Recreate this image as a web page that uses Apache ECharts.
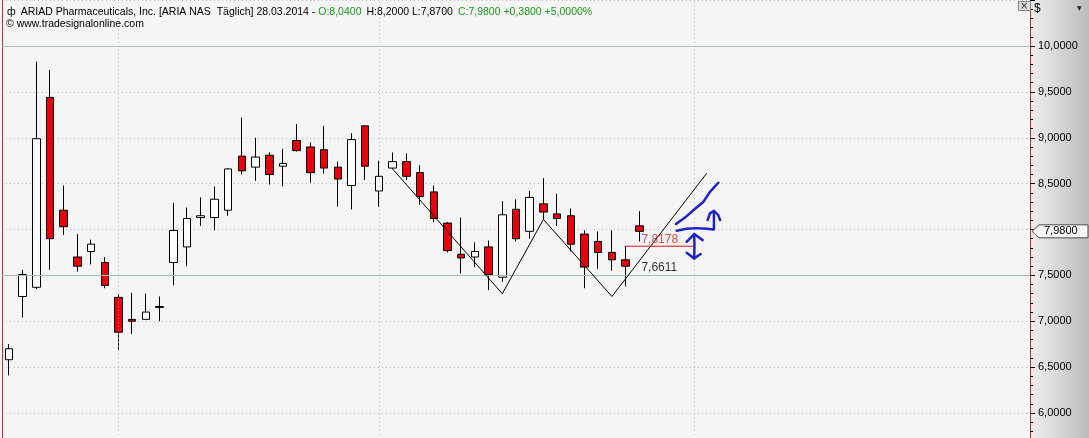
<!DOCTYPE html>
<html><head><meta charset="utf-8">
<script src="https://cdn.jsdelivr.net/npm/echarts@6/dist/echarts.min.js"></script>
<style>html,body{margin:0;padding:0;background:#f5f5f5}#c{width:1089px;height:438px}</style>
</head><body><div id="c"></div>
<script>
// ---- data ----
const tradeDates = ['22.01.2014','23.01.2014','24.01.2014','27.01.2014','28.01.2014','29.01.2014','30.01.2014','31.01.2014',
 '03.02.2014','04.02.2014','05.02.2014','06.02.2014','07.02.2014','10.02.2014','11.02.2014','12.02.2014','13.02.2014','14.02.2014',
 '18.02.2014','19.02.2014','20.02.2014','21.02.2014','24.02.2014','25.02.2014','26.02.2014','27.02.2014','28.02.2014',
 '03.03.2014','04.03.2014','05.03.2014','06.03.2014','07.03.2014','10.03.2014','11.03.2014','12.03.2014','13.03.2014','14.03.2014',
 '17.03.2014','18.03.2014','19.03.2014','20.03.2014','21.03.2014','24.03.2014','25.03.2014','26.03.2014','27.03.2014','28.03.2014'];
const futureDates = ['29.03.2014','30.03.2014','31.03.2014','01.04.2014','02.04.2014','03.04.2014','04.04.2014','05.04.2014',
 '06.04.2014','07.04.2014','08.04.2014','09.04.2014','10.04.2014','11.04.2014','12.04.2014','13.04.2014','14.04.2014','15.04.2014',
 '16.04.2014','17.04.2014','18.04.2014','19.04.2014','20.04.2014','21.04.2014','22.04.2014','23.04.2014','24.04.2014','25.04.2014'];
const opens  = [6.58,7.27,7.37,9.44,8.21,7.70,7.76,7.64,7.26,7.02,7.02,7.15,7.64,7.81,8.13,8.13,8.21,8.80,8.68,8.81,8.69,8.97,8.90,8.87,8.68,8.48,9.13,
                8.42,8.67,8.74,8.62,8.41,8.07,7.73,7.70,7.81,7.48,8.22,7.98,8.28,8.17,8.15,7.95,7.87,7.75,7.67,8.04];
const closes = [6.70,7.51,8.99,7.90,8.03,7.60,7.84,7.39,6.88,7.00,7.10,7.16,7.99,8.12,8.15,8.33,8.66,8.64,8.79,8.60,8.72,8.86,8.62,8.67,8.55,8.98,8.69,
                8.58,8.74,8.58,8.36,8.12,7.77,7.69,7.76,7.51,8.16,7.90,8.35,8.19,8.12,7.84,7.59,7.75,7.67,7.60,7.98];
const lows   = [6.41,7.04,7.35,7.56,7.94,7.54,7.62,7.36,6.69,6.86,7.02,7.00,7.39,7.60,8.04,7.99,8.15,8.60,8.53,8.49,8.47,8.85,8.51,8.61,8.25,8.22,8.54,
                8.25,8.66,8.54,8.27,8.08,7.75,7.52,7.59,7.34,7.43,7.87,7.90,8.11,8.04,7.76,7.36,7.57,7.55,7.38,7.87];
const highs  = [6.75,7.56,9.83,9.74,8.48,7.95,7.89,7.70,7.30,7.31,7.30,7.27,8.29,8.24,8.35,8.47,8.67,9.22,9.00,8.84,8.88,9.15,8.95,9.13,8.74,9.05,9.13,
                8.75,8.84,8.83,8.70,8.48,8.08,8.13,7.86,7.88,8.31,8.33,8.42,8.56,8.39,8.23,7.99,7.98,7.99,7.82,8.20];
const monthGridDates = ['03.02.2014','03.03.2014','01.04.2014'];
const levelLines = [10.0, 7.5];
const zigzag = [[28,8.66],[36,7.30],[39,8.11],[44,7.27],[50.9,8.61]];
const redLevel = [[45,7.8178],[50,7.8178]];
const redLevelLabel = {x:46.15, y:7.8178, text:'7,8178'};
const blackLevelLabel = {x:46.15, y:7.6611, text:'7,6611'};
const blueStroke1 = [[48.67,8.06],[49.33,8.13],[49.94,8.21],[50.66,8.30],[51.15,8.41],[51.76,8.51]];
const blueStroke2 = [[48.72,7.986],[49.45,8.008],[50.18,8.015],[50.91,8.008],[51.44,8.001],[51.44,8.103],[51.44,8.193]];
const blueHead2   = [[50.98,8.103],[51.15,8.176],[51.44,8.204],[51.76,8.157],[51.89,8.103]];
const blueShaft3  = [[50.0,7.95],[50.02,7.82],[50.0,7.685]];
const blueHead3a  = [[49.45,7.866],[50.0,7.95],[50.62,7.884]];
const blueHead3b  = [[49.45,7.746],[50.0,7.685],[50.47,7.732]];
const lastPrice = 7.98;
const headerName = 'ARIAD Pharmaceuticals, Inc. [ARIA NAS  Täglich] 28.03.2014 - ';
const headerO = 'O:8,0400';
const headerHL = 'H:8,2000 L:7,8700';
const headerC = 'C:7,9800 +0,3800 +5,0000%';
const sourceText = '© www.tradesignalonline.com';

// ---- build ----
const categories = tradeDates.concat(futureDates);
const candleData = opens.map((o,i)=>[o, closes[i], lows[i], highs[i]]);
const fmt = v => v.toFixed(4).replace('.', ',');
const FONT = 'Liberation Sans, Arial, sans-serif';
const blue = '#1c22cc';
function overlay(data, color, width, z){
  return {type:'line', xAxisIndex:1, yAxisIndex:0, data, symbol:'none', z:z||5, silent:true, animation:false,
    lineStyle:{color, width, cap:'round', join:'round'}};
}
const txt = (size, color) => ({fontFamily:FONT, fontSize:size, color, fontWeight:'normal'});

const chart = echarts.init(document.getElementById('c'), null, {renderer:'canvas'});
chart.setOption({
  animation:false,
  backgroundColor:{type:'linear', x:0, y:0, x2:1, y2:0, colorStops:[
    {offset:0, color:'#f5f5f5'},{offset:0.9455, color:'#f5f5f5'},{offset:0.9465, color:'#efefef'},{offset:1, color:'#bcbcbc'}]},
  title:[
    {left:7, top:3, padding:0, text:'{i|ф} {k|'+headerName+'}{g|'+headerO+'} {k|'+headerHL+'} {g|'+headerC+'}',
     textStyle:{fontWeight:'normal', rich:{ i:txt(10.5,'#000'), k:txt(10.5,'#000'), g:txt(10.5,'#1a9a1a') }}},
    {left:6, top:19, padding:0, text:sourceText, textStyle:txt(10.5,'#000')},
    {left:1034, top:3, padding:0, text:'$', textStyle:txt(12,'#000')},
    {left:1077, top:5, padding:0, text:'▼', textStyle:{fontFamily:'DejaVu Sans', fontSize:6, color:'#222', fontWeight:'normal'}},
    {left:1018, top:1, text:'×', padding:[0,2,0,2], backgroundColor:'#dcdcdc', borderColor:'#8a8a8a', borderWidth:1,
     textStyle:{fontFamily:'DejaVu Sans', fontSize:10, lineHeight:10, color:'#333', fontWeight:'normal'}}
  ],
  grid:{left:2, right:59, top:0.2, bottom:-20.8, containLabel:false, outerBoundsMode:'none'},
  xAxis:[
    {type:'category', data:categories, boundaryGap:true, axisLine:{show:false}, axisTick:{show:false}, axisLabel:{show:false}, splitLine:{show:false}},
    {type:'value', min:-0.5, max:74.5, show:false}
  ],
  yAxis:[
    {type:'value', position:'right', min:5.5, max:10.5, interval:0.5,
     axisLine:{show:true, onZero:false, lineStyle:{color:'#d42a2a', width:1}},
     axisTick:{show:true, length:5, lineStyle:{color:'#000'}},
     minorTick:{show:true, splitNumber:5, length:3, lineStyle:{color:'#000'}},
     axisLabel:{margin:8, color:'#000', fontFamily:FONT, fontSize:11,
       formatter:v => (v < 5.9 || v > 10.1) ? '' : fmt(v)},
     splitLine:{show:true, lineStyle:{color:'#b9b9b9', type:[1,3], width:1}}},
    {type:'value', position:'left', min:5.5, max:10.5, interval:0.5,
     axisLine:{show:true, onZero:false, lineStyle:{color:'#d42a2a', width:1}}, axisTick:{show:false}, axisLabel:{show:false}, splitLine:{show:false}}
  ],
  series:[
    {type:'line', xAxisIndex:0, yAxisIndex:0, data:[], z:1, silent:true,
     markLine:{silent:true, symbol:['none','none'], label:{show:false}, animation:false,
       data: monthGridDates.map(d=>({xAxis:d, lineStyle:{color:'#b9b9b9', type:[1,3], width:1}}))
         .concat(levelLines.map(v=>({yAxis:v, lineStyle:{color:'#a9bdb1', type:'solid', width:1}})))}},
    {type:'candlestick', xAxisIndex:0, yAxisIndex:0, data:candleData, barWidth:8, z:3,
     itemStyle:{color:'#ffffff', color0:'#e8000c', borderColor:'#000', borderColor0:'#000', borderWidth:1}},
    overlay(zigzag, '#000', 1, 6),
    overlay(redLevel, '#d01818', 1, 6),
    overlay(blueStroke1, blue, 2.5, 7),
    overlay(blueStroke2, blue, 2.5, 7),
    overlay(blueHead2, blue, 2.5, 7),
    overlay(blueShaft3, blue, 2.5, 7),
    overlay(blueHead3a, blue, 2.5, 7),
    overlay(blueHead3b, blue, 2.5, 7),
    {type:'scatter', xAxisIndex:1, yAxisIndex:0, symbolSize:0, z:8, silent:true,
     data:[
       {value:[redLevelLabel.x, redLevelLabel.y], label:{show:true, formatter:redLevelLabel.text, position:'inside', align:'left', verticalAlign:'bottom', offset:[0,-1], color:'#d42020', fontFamily:FONT, fontSize:12}},
       {value:[blackLevelLabel.x, blackLevelLabel.y], label:{show:true, formatter:blackLevelLabel.text, position:'inside', align:'left', verticalAlign:'top', offset:[0,1], color:'#000', fontFamily:FONT, fontSize:12}}
     ]}
  ]
});

// price tag on the axis, placed through the axis scale
const py = chart.convertToPixel({yAxisIndex:0}, lastPrice);
const px = chart.convertToPixel({xAxisIndex:1}, 74.5);
chart.setOption({graphic:[
  {type:'polygon', z:20, shape:{points:[[px+2,py],[px+9,py-6.5],[px+58,py-6.5],[px+58,py+6.5],[px+9,py+6.5]]},
   style:{fill:'#f7f7f7', stroke:'#4a4a4a', lineWidth:1}},
  {type:'text', z:21, x:px+14, y:py, style:{text:fmt(lastPrice), fill:'#000', font:'11px '+FONT, verticalAlign:'middle'}}
]});
</script></body></html>
